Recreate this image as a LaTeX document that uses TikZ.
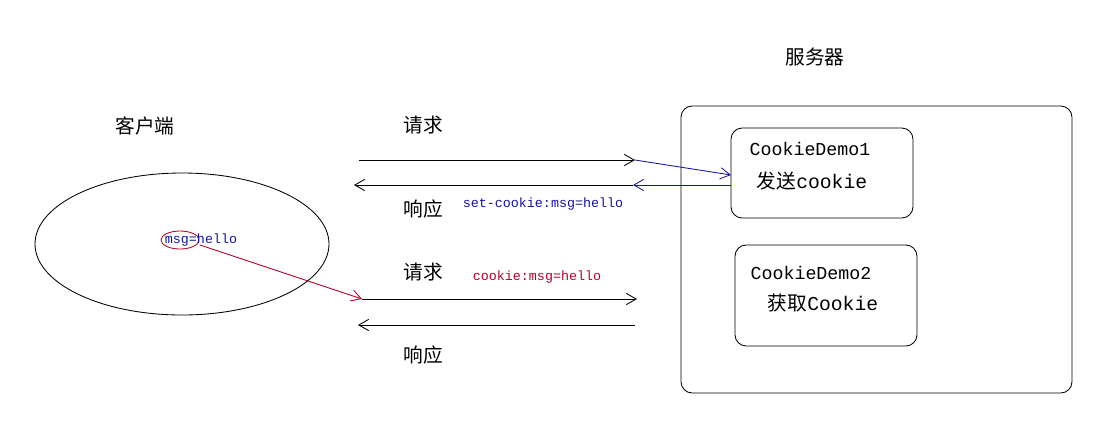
\documentclass[tikz,border=0pt]{standalone}
\usepackage{fontspec}
\setmonofont{Liberation Mono}
\newfontfamily\cjk{Noto Sans CJK SC}
\usepackage{tikz}
\usetikzlibrary{arrows.meta}

\definecolor{cookieblue}{RGB}{20,20,160}
\definecolor{cookiered}{RGB}{180,0,40}

\tikzset{
  msgarrow/.style={-{Straight Barb[length=7pt,width=8pt]}, line width=0.6pt},
  label/.style={font=\cjk\fontsize{14}{16}\selectfont},
  demo/.style={font=\ttfamily\fontsize{13}{16}\selectfont, align=left}
}

\begin{document}
\begin{tikzpicture}[x=0.025cm, y=-0.025cm]

  \useasboundingbox (0,0) rectangle (1110,442);

  % client side
  \node[label] (client) at (145,126) {客户端};
  \draw[line width=0.6pt] (182,244) ellipse (147 and 71);
  \draw[cookiered, line width=0.6pt] (180,240) ellipse (19 and 9);
  \node[font=\ttfamily\fontsize{9.5}{11}\selectfont, text=cookieblue] (msg) at (201,240) {msg=hello};

  % server side
  \node[label] (server) at (815,57) {服务器};
  \draw[line width=0.6pt, rounded corners=8] (681,106) rectangle (1072,393);
  \draw[line width=0.6pt, rounded corners=8] (731,128) rectangle (913,218);
  \draw[line width=0.6pt, rounded corners=8] (735,245) rectangle (917,346);
  \node[demo] (demoA) at (810,149) {CookieDemo1};
  \node[font=\fontsize{14}{16}\selectfont] (sendA) at (812,181) {{\cjk 发送}\ttfamily cookie};
  \node[demo] (demoB) at (811,273) {CookieDemo2};
  \node[font=\fontsize{14}{16}\selectfont] (getB) at (823,303) {{\cjk 获取}\ttfamily Cookie};

  % anchor points of the arrows
  \coordinate (reqA0) at (359,160);
  \coordinate (reqA1) at (635,160);
  \coordinate (boxA1) at (731,175);
  \coordinate (boxA2) at (731,185);
  \coordinate (resA0) at (633,185);
  \coordinate (resA1) at (354,185);
  \coordinate (msgout) at (200,245);
  \coordinate (reqB0) at (362,299);
  \coordinate (reqB1) at (637,299);
  \coordinate (resB0) at (635,325);
  \coordinate (resB1) at (358,325);

  % first round trip
  \node[label] (reqlabelA) at (423,125) {请求};
  \draw[msgarrow] (reqA0) -- (reqA1);
  \draw[msgarrow, cookieblue] (reqA1) -- (boxA1);
  \draw[msgarrow, cookieblue] (boxA2) -- (resA0);
  \draw[msgarrow] (resA0) -- (resA1);
  \node[label] (reslabelA) at (423,209) {响应};
  \node[font=\ttfamily\fontsize{9.5}{11}\selectfont, text=cookieblue] (setcookie) at (543,204) {set-cookie:msg=hello};

  % second round trip
  \draw[msgarrow, cookiered] (msgout) -- (reqB0);
  \node[label] (reqlabelB) at (423,272) {请求};
  \node[font=\ttfamily\fontsize{9.5}{11}\selectfont, text=cookiered] (cookie) at (537,277) {cookie:msg=hello};
  \draw[msgarrow] (reqB0) -- (reqB1);
  \draw[msgarrow] (resB0) -- (resB1);
  \node[label] (reslabelB) at (423,355) {响应};

\end{tikzpicture}
\end{document}
